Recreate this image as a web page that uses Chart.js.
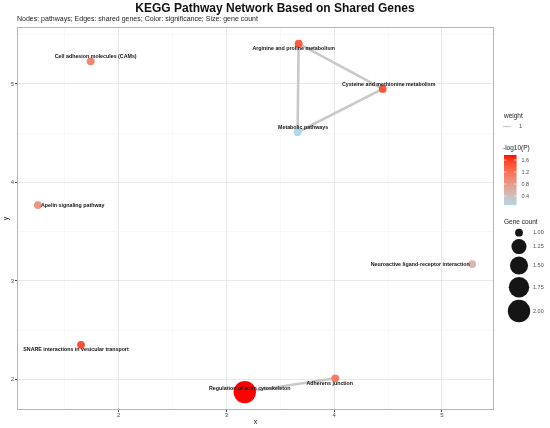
<!DOCTYPE html>
<html>
<head>
<meta charset="utf-8">
<script src="https://cdn.jsdelivr.net/npm/chart.js@4.4.0/dist/chart.umd.min.js"></script>
<style>
    html, body { margin: 0; padding: 0; background: #fff; }
    #wrap { width: 550px; height: 428px; }
</style>
</head>
<body>
<div id="wrap"><canvas id="kegg-network"></canvas></div>
<script>
// nodes (pathways)
const pathways = [
    'Cell adhesion molecules (CAMs)',
    'Arginine and proline metabolism',
    'Cysteine and methionine metabolism',
    'Metabolic pathways',
    'Apelin signaling pathway',
    'SNARE interactions in vesicular transport',
    'Regulation of actin cytoskeleton',
    'Adherens junction',
    'Neuroactive ligand-receptor interaction'
];
const nodeX = [1.74, 3.67, 4.45, 3.66, 1.25, 1.65, 3.17, 4.01, 5.28];
const nodeY = [5.23, 5.41, 4.95, 4.51, 3.77, 2.35, 1.87, 2.01, 3.17];
const logP = [1.00, 1.40, 1.42, 0.10, 0.85, 1.48, 1.77, 1.08, 0.52];
const geneCount = [1, 1, 1, 1, 1, 1, 2, 1, 1];

// edges (shared genes)
const edgeFrom = [1, 1, 2, 6];
const edgeTo = [2, 3, 3, 7];
const edgeWeight = [1, 1, 1, 1];

// ticks
const xTicks = [2, 3, 4, 5];
const yTicks = [2, 3, 4, 5];
const colorTicks = [0.4, 0.8, 1.2, 1.6];
const sizeTicks = [1.00, 1.25, 1.50, 1.75, 2.00];
const weightTicks = [1];

const FONT = "'Liberation Sans', Arial, Helvetica, sans-serif";
const logMin = Math.min(...logP), logMax = Math.max(...logP);
const countMin = Math.min(...sizeTicks), countMax = Math.max(...sizeTicks);

// ggplot-ish colour gradient (lightblue -> red, interpolated in Lab)
function toLin(c) { c /= 255; return c <= 0.04045 ? c / 12.92 : Math.pow((c + 0.055) / 1.055, 2.4); }
function fromLin(c) {
    const v = c <= 0.0031308 ? 12.92 * c : 1.055 * Math.pow(c, 1 / 2.4) - 0.055;
    return Math.round(Math.max(0, Math.min(1, v)) * 255);
}
function rgbToLab(rgb) {
    const R = toLin(rgb[0]), G = toLin(rgb[1]), B = toLin(rgb[2]);
    const X = (R * 0.4124 + G * 0.3576 + B * 0.1805) / 0.95047;
    const Y = R * 0.2126 + G * 0.7152 + B * 0.0722;
    const Z = (R * 0.0193 + G * 0.1192 + B * 0.9505) / 1.08883;
    const f = t => t > 0.008856 ? Math.cbrt(t) : 7.787 * t + 16 / 116;
    return [116 * f(Y) - 16, 500 * (f(X) - f(Y)), 200 * (f(Y) - f(Z))];
}
function labToRgb(lab) {
    const fy = (lab[0] + 16) / 116, fx = fy + lab[1] / 500, fz = fy - lab[2] / 200;
    const inv = t => t * t * t > 0.008856 ? t * t * t : (t - 16 / 116) / 7.787;
    const X = inv(fx) * 0.95047, Y = inv(fy), Z = inv(fz) * 1.08883;
    return [
        fromLin(X * 3.2406 - Y * 1.5372 - Z * 0.4986),
        fromLin(-X * 0.9689 + Y * 1.8758 + Z * 0.0415),
        fromLin(X * 0.0557 - Y * 0.2040 + Z * 1.0570)
    ];
}
const LOW = rgbToLab([173, 216, 230]), HIGH = rgbToLab([255, 0, 0]);
function sigColor(v) {
    const t = Math.max(0, Math.min(1, (v - logMin) / (logMax - logMin)));
    const c = labToRgb(LOW.map((l, i) => l + (HIGH[i] - l) * t));
    return `rgb(${c[0]}, ${c[1]}, ${c[2]})`;
}
// area scaling like scale_size
function nodeRadius(n) {
    const t = (n - countMin) / (countMax - countMin);
    return 3.9 + (11.2 - 3.9) * Math.sqrt(Math.max(0, t));
}

// where each node label sits relative to its node (pixels)
const labelPlace = [
    { dx: 5, dy: -4.5, align: 'center' },
    { dx: -5, dy: 4.5, align: 'center' },
    { dx: 6, dy: -4, align: 'center' },
    { dx: 5.5, dy: -4.5, align: 'center' },
    { dx: 3, dy: 0, align: 'left' },
    { dx: -5, dy: 4.5, align: 'center' },
    { dx: 5, dy: -4, align: 'center' },
    { dx: -5.5, dy: 5, align: 'center' },
    { dx: -2.5, dy: 0, align: 'right' }
];

const nodeLabels = {
    id: 'nodeLabels',
    afterDatasetsDraw(chart) {
        const { ctx, scales: { x, y } } = chart;
        ctx.save();
        ctx.font = `bold 5.3px ${FONT}`;
        ctx.fillStyle = '#111';
        ctx.textBaseline = 'middle';
        pathways.forEach((name, i) => {
            const p = labelPlace[i];
            ctx.textAlign = p.align;
            ctx.fillText(name, x.getPixelForValue(nodeX[i]) + p.dx, y.getPixelForValue(nodeY[i]) + p.dy);
        });
        ctx.restore();
    }
};

const panelExtras = {
    id: 'panelExtras',
    beforeDatasetsDraw(chart) {
        const { ctx, chartArea: a } = chart;
        ctx.save();
        ctx.strokeStyle = '#b5b5b5';
        ctx.lineWidth = 1;
        ctx.strokeRect(a.left + 0.5, a.top + 0.5, a.right - a.left - 1, a.bottom - a.top - 1);
        ctx.restore();
    },
    afterDraw(chart) {
        const { ctx, chartArea: a } = chart;
        ctx.save();
        // subtitle
        ctx.font = `7px ${FONT}`;
        ctx.fillStyle = '#222';
        ctx.textAlign = 'left';
        ctx.textBaseline = 'middle';
        ctx.fillText('Nodes: pathways; Edges: shared genes; Color: significance; Size: gene count', a.left, 19.5);

        const lx = a.right + 10;
        // weight legend
        ctx.font = `6.5px ${FONT}`;
        ctx.fillStyle = '#1a1a1a';
        ctx.fillText('weight', lx, 116);
        weightTicks.forEach((w, k) => {
            const yy = 126.5 + k * 10;
            ctx.strokeStyle = '#c9c9c9';
            ctx.lineWidth = 1.2 * w;
            ctx.beginPath();
            ctx.moveTo(lx - 1, yy);
            ctx.lineTo(lx + 7, yy);
            ctx.stroke();
            ctx.font = `5.5px ${FONT}`;
            ctx.fillStyle = '#4d4d4d';
            ctx.fillText(String(w), lx + 15, yy);
        });

        // colour bar
        ctx.font = `6.5px ${FONT}`;
        ctx.fillStyle = '#1a1a1a';
        ctx.fillText('-log10(P)', lx - 1, 148.5);
        const barTop = 155, barH = 50, barW = 12.5;
        for (let s = 0; s < barH; s++) {
            const v = logMax - (logMax - logMin) * (s + 0.5) / barH;
            ctx.fillStyle = sigColor(v);
            ctx.fillRect(lx, barTop + s, barW, 1.2);
        }
        ctx.font = `5.5px ${FONT}`;
        colorTicks.forEach(v => {
            const yy = barTop + (logMax - v) / (logMax - logMin) * barH;
            ctx.strokeStyle = '#fff';
            ctx.lineWidth = 0.6;
            ctx.beginPath();
            ctx.moveTo(lx, yy); ctx.lineTo(lx + 2.5, yy);
            ctx.moveTo(lx + barW - 2.5, yy); ctx.lineTo(lx + barW, yy);
            ctx.stroke();
            ctx.fillStyle = '#4d4d4d';
            ctx.fillText(v.toFixed(1), lx + barW + 5, yy);
        });

        // gene count legend
        ctx.font = `6.5px ${FONT}`;
        ctx.fillStyle = '#1a1a1a';
        ctx.fillText('Gene count', lx, 222);
        let cy = 232.7, prevH = 0;
        sizeTicks.forEach((n, k) => {
            const r = nodeRadius(n);
            const h = 2 * r + 2.4;
            if (k > 0) cy += (prevH + h) / 2;
            prevH = h;
            ctx.fillStyle = '#151515';
            ctx.beginPath();
            ctx.arc(lx + 15, cy, r, 0, Math.PI * 2);
            ctx.fill();
            ctx.font = `5.5px ${FONT}`;
            ctx.fillStyle = '#4d4d4d';
            ctx.fillText(n.toFixed(2), lx + 29, cy);
        });
        ctx.restore();
    }
};

const gridColor = (ctx, ticks) => ticks.includes(ctx.tick.value) ? '#e6e6e6' : '#f3f3f3';

const edgeSets = edgeFrom.map((f, k) => ({
    type: 'line',
    data: [{ x: nodeX[f], y: nodeY[f] }, { x: nodeX[edgeTo[k]], y: nodeY[edgeTo[k]] }],
    borderColor: '#c9c9c9',
    borderWidth: 2.6 * edgeWeight[k],
    pointRadius: 0,
    fill: false,
    order: 2
}));

const ctx = document.getElementById('kegg-network');
new Chart(ctx, {
    type: 'scatter',
    data: {
        datasets: [{
            label: 'pathways',
            data: pathways.map((p, i) => ({ x: nodeX[i], y: nodeY[i] })),
            backgroundColor: logP.map(sigColor),
            borderWidth: 0,
            pointRadius: geneCount.map(nodeRadius),
            pointHoverRadius: geneCount.map(nodeRadius),
            order: 1
        }, ...edgeSets]
    },
    options: {
        responsive: true,
        maintainAspectRatio: false,
        animation: false,
        layout: { padding: 0 },
        plugins: {
            legend: { display: false },
            tooltip: { enabled: false },
            title: {
                display: true,
                text: 'KEGG Pathway Network Based on Shared Genes',
                color: '#111',
                font: { size: 12, weight: 'bold', family: FONT },
                padding: { top: 1.8, bottom: 10.8 }
            }
        },
        scales: {
            x: {
                type: 'linear',
                min: 1.056,
                max: 5.483,
                afterBuildTicks: s => { s.ticks = xTicks.flatMap(v => [v - 0.5, v]).map(v => ({ value: v })); },
                afterFit: s => { s.height = 18; },
                ticks: {
                    callback: v => xTicks.includes(v) ? String(v) : '',
                    font: { size: 6, family: FONT },
                    color: '#4d4d4d',
                    padding: 0,
                    maxRotation: 0,
                    autoSkip: false
                },
                grid: {
                    color: c => gridColor(c, xTicks),
                    lineWidth: c => xTicks.includes(c.tick.value) ? 0.9 : 0.6,
                    tickColor: c => xTicks.includes(c.tick.value) ? '#333' : 'rgba(0,0,0,0)',
                    tickLength: 2
                },
                border: { display: false },
                title: { display: true, text: 'x', color: '#111', font: { size: 7, family: FONT }, padding: { top: 0, bottom: 2 } }
            },
            y: {
                type: 'linear',
                min: 1.688,
                max: 5.579,
                afterBuildTicks: s => { s.ticks = yTicks.flatMap(v => [v, v + 0.5]).map(v => ({ value: v })); },
                afterFit: s => { s.width = 17; },
                ticks: {
                    callback: v => yTicks.includes(v) ? String(v) : '',
                    font: { size: 6, family: FONT },
                    color: '#4d4d4d',
                    padding: 1,
                    autoSkip: false
                },
                grid: {
                    color: c => gridColor(c, yTicks),
                    lineWidth: c => yTicks.includes(c.tick.value) ? 0.9 : 0.6,
                    tickColor: c => yTicks.includes(c.tick.value) ? '#333' : 'rgba(0,0,0,0)',
                    tickLength: 2
                },
                border: { display: false },
                title: { display: true, text: 'y', color: '#111', font: { size: 7, family: FONT }, padding: { top: 2, bottom: 0 } }
            },
            legendSpace: {
                type: 'linear',
                position: 'right',
                afterFit: s => { s.width = 56; },
                ticks: { display: false },
                grid: { display: false },
                border: { display: false }
            }
        }
    },
    plugins: [panelExtras, nodeLabels]
});
</script>
</body>
</html>
